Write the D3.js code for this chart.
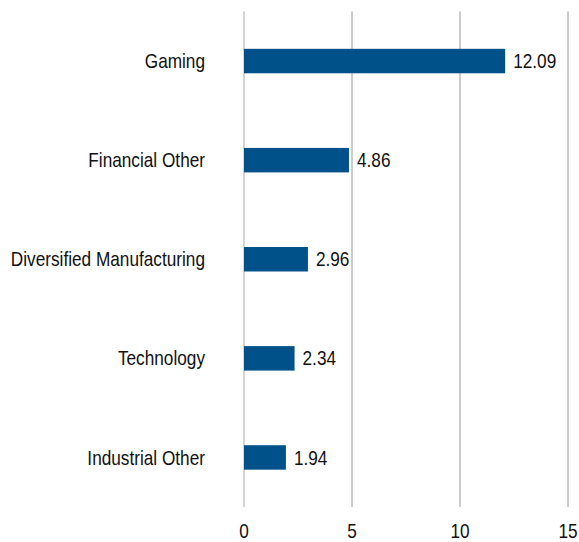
<!DOCTYPE html>
<html>
<head>
<meta charset="utf-8">
<script src="https://cdn.jsdelivr.net/npm/d3@7"></script>
<style>
  body { margin: 0; background: #fff; }
  svg text { font-family: "Liberation Sans", Arial, sans-serif; font-size: 21px; fill: #111; }
</style>
</head>
<body>
<div id="chart"></div>
<script>
var categories = ['Gaming', 'Financial Other', 'Diversified Manufacturing', 'Technology', 'Industrial Other'];
var values = [12.09, 4.86, 2.96, 2.34, 1.94];
var xTicks = [0, 5, 10, 15];

var width = 579, height = 542;
var plot = { left: 244, right: 568, top: 11.5, bottom: 507 };
var narrow = 0.82; // squeeze text to look like a narrow face

var svg = d3.select('#chart')
    .append('svg')
    .attr('width', width)
    .attr('height', height);

var x = d3.scaleLinear().domain([0, 15]).range([plot.left, plot.right]);
var y = d3.scaleBand()
    .domain(categories)
    .range([plot.top, plot.bottom])
    .paddingInner(0.753)
    .paddingOuter(0.3765);

// grid lines
svg.append('g')
    .selectAll('line')
    .data(xTicks)
    .join('line')
    .attr('x1', function(d) { return x(d); })
    .attr('x2', function(d) { return x(d); })
    .attr('y1', plot.top)
    .attr('y2', plot.bottom)
    .attr('stroke', function(d) { return d === 0 ? '#d4d4d4' : '#9a9a9a'; })
    .attr('stroke-width', function(d) { return d === 0 ? 2 : 1; });

// x axis labels
var xAxis = d3.axisBottom(x).tickValues(xTicks).tickSize(0).tickPadding(0);
var gx = svg.append('g')
    .attr('transform', 'translate(0,' + 531 + ')')
    .call(xAxis);
gx.select('.domain').remove();
gx.attr('font-family', null).attr('font-size', null);
gx.selectAll('.tick')
    .attr('transform', function(d) { return 'translate(' + x(d) + ',0) scale(' + narrow + ',1)'; });
gx.selectAll('text')
    .attr('dy', null)
    .attr('y', 0)
    .attr('dominant-baseline', 'central')
    .attr('fill', '#111');

// bars
svg.append('g')
    .selectAll('rect')
    .data(values)
    .join('rect')
    .attr('x', x(0))
    .attr('y', function(d, i) { return y(categories[i]); })
    .attr('width', function(d) { return x(d) - x(0); })
    .attr('height', y.bandwidth())
    .attr('fill', '#00518a');

// value labels
svg.append('g')
    .selectAll('text')
    .data(values)
    .join('text')
    .attr('transform', function(d, i) {
        return 'translate(' + (x(d) + 8) + ',' + (y(categories[i]) + y.bandwidth() / 2) + ') scale(' + narrow + ',1)';
    })
    .attr('dominant-baseline', 'central')
    .text(function(d) { return d.toFixed(2); });

// category labels
svg.append('g')
    .selectAll('text')
    .data(categories)
    .join('text')
    .attr('transform', function(d) {
        return 'translate(205,' + (y(d) + y.bandwidth() / 2) + ') scale(' + narrow + ',1)';
    })
    .attr('text-anchor', 'end')
    .attr('dominant-baseline', 'central')
    .text(function(d) { return d; });
</script>
</body>
</html>
